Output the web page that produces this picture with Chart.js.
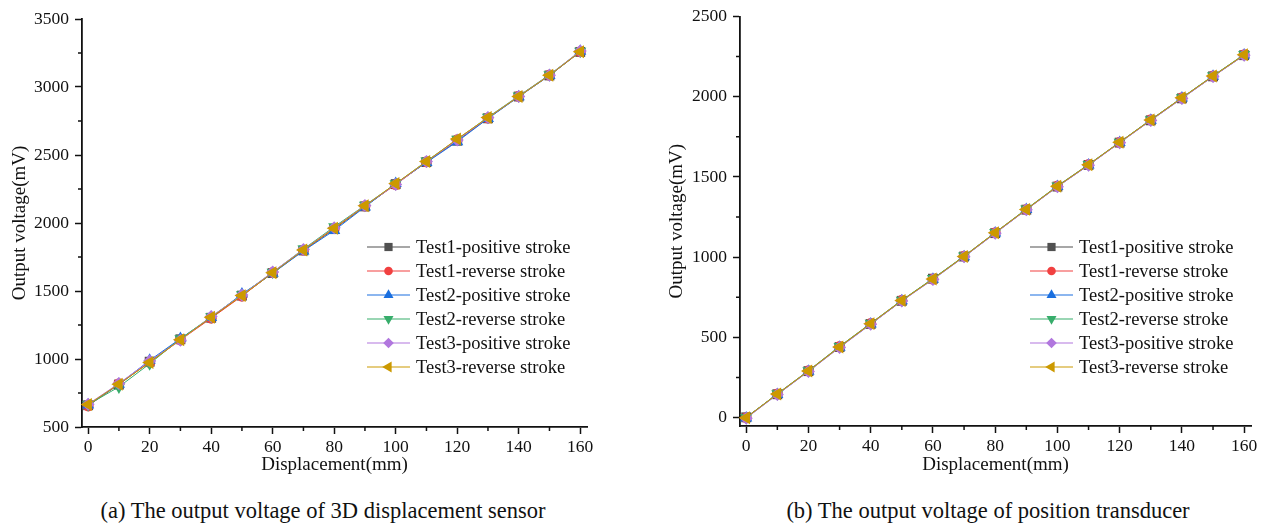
<!DOCTYPE html>
<html>
<head>
<meta charset="utf-8">
<script src="https://cdn.jsdelivr.net/npm/chart.js@4/dist/chart.umd.min.js"></script>
<style>
  html, body { margin: 0; padding: 0; background: #fff; }
  body { width: 1273px; height: 524px; position: relative; overflow: hidden; font-family: "Liberation Serif", "Times New Roman", serif; }
  .panel { position: absolute; top: 0; height: 480px; }
  .caption { position: absolute; top: 497px; font-size: 22.5px; color: #111; white-space: nowrap; transform: translateX(-50%); line-height: 28px; }
</style>
</head>
<body>
<div class="panel" style="left:0;width:600px;"><canvas id="chartA"></canvas></div>
<div class="panel" style="left:660px;width:613px;"><canvas id="chartB"></canvas></div>
<div class="caption" style="left:323px;">(a) The output voltage of 3D displacement sensor</div>
<div class="caption" style="left:988px;">(b) The output voltage of position transducer</div>
<script>
// ---------- data ----------
const displacement = [0, 10, 20, 30, 40, 50, 60, 70, 80, 90, 100, 110, 120, 130, 140, 150, 160];
const seriesNames = ["Test1-positive stroke", "Test1-reverse stroke", "Test2-positive stroke", "Test2-reverse stroke", "Test3-positive stroke", "Test3-reverse stroke"];

const xTickValues = [0, 20, 40, 60, 80, 100, 120, 140, 160];
const xMinorValues = [10, 30, 50, 70, 90, 110, 130, 150];
const yTickValuesA = [500, 1000, 1500, 2000, 2500, 3000, 3500];
const yMinorValuesA = [750, 1250, 1750, 2250, 2750, 3250];
const yTickValuesB = [0, 500, 1000, 1500, 2000, 2500];
const yMinorValuesB = [250, 750, 1250, 1750, 2250];

// (a) 3D displacement sensor, mV
const a_test1Pos = [660, 812, 980, 1145, 1303, 1466, 1632, 1798, 1955, 2122, 2286, 2448, 2605, 2770, 2930, 3085, 3258];
const a_test1Rev = [655, 818, 975, 1140, 1300, 1462, 1636, 1800, 1960, 2125, 2282, 2450, 2612, 2772, 2932, 3088, 3260];
const a_test2Pos = [662, 815, 990, 1150, 1305, 1478, 1630, 1795, 1945, 2118, 2290, 2445, 2598, 2768, 2928, 3084, 3262];
const a_test2Rev = [664, 795, 965, 1148, 1310, 1472, 1638, 1808, 1972, 2130, 2288, 2455, 2615, 2778, 2934, 3090, 3263];
const a_test3Pos = [668, 820, 985, 1138, 1312, 1470, 1640, 1805, 1965, 2128, 2284, 2452, 2610, 2775, 2931, 3087, 3265];
const a_test3Rev = [665, 815, 975, 1142, 1307, 1466, 1634, 1802, 1962, 2126, 2290, 2452, 2618, 2775, 2930, 3086, 3260];

// (b) position transducer, mV
const b_test1Pos = [2, 146, 290, 440, 584, 728, 866, 1004, 1150, 1296, 1440, 1575, 1714, 1853, 1990, 2127, 2259];
const b_test1Rev = [0, 148, 292, 443, 587, 731, 864, 1006, 1153, 1298, 1443, 1577, 1716, 1856, 1993, 2129, 2262];
const b_test2Pos = [-2, 145, 289, 439, 583, 729, 862, 1003, 1151, 1297, 1441, 1574, 1715, 1854, 1992, 2128, 2260];
const b_test2Rev = [1, 149, 293, 444, 588, 732, 867, 1007, 1154, 1300, 1444, 1578, 1717, 1857, 1994, 2131, 2263];
const b_test3Pos = [-3, 144, 288, 437, 582, 727, 861, 1002, 1149, 1295, 1439, 1573, 1713, 1852, 1989, 2126, 2258];
const b_test3Rev = [0, 147, 291, 441, 586, 730, 864, 1005, 1153, 1298, 1442, 1576, 1716, 1855, 1993, 2129, 2261];

// ---------- styles ----------
const colors = ["#515151", "#F14040", "#1A6FDF", "#37AD6B", "#B177DE", "#CC9900"];
const markers = [
  { pointStyle: "rect", radius: 7, rotation: 0 },
  { pointStyle: "circle", radius: 5.5, rotation: 0 },
  { pointStyle: "triangle", radius: 7, rotation: 0 },
  { pointStyle: "triangle", radius: 7, rotation: 180 },
  { pointStyle: "rectRot", radius: 6.5, rotation: 0 },
  { pointStyle: "triangle", radius: 7.5, rotation: -90 }
];
const FONT = "'Liberation Serif', 'Times New Roman', serif";

function makeDatasets(list) {
  return list.map((vals, i) => ({
    label: seriesNames[i],
    data: displacement.map((x, k) => ({ x: x, y: vals[k] })),
    borderColor: colors[i],
    backgroundColor: colors[i],
    borderWidth: 1,
    pointStyle: markers[i].pointStyle,
    pointRadius: markers[i].radius,
    pointRotation: markers[i].rotation,
    pointBorderWidth: 0,
    pointHoverRadius: markers[i].radius,
    order: list.length - 1 - i,
    clip: false,
    tension: 0
  }));
}

// custom in-plot legend
function legendPlugin(cfg) {
  return {
    id: "inlegend",
    afterDraw(chart) {
      const ctx = chart.ctx;
      ctx.save();
      chart.data.datasets.forEach((ds, i) => {
        const y = cfg.y0 + cfg.dy * i;
        ctx.strokeStyle = ds.borderColor;
        ctx.lineWidth = 1.2;
        ctx.beginPath();
        ctx.moveTo(cfg.x0, y);
        ctx.lineTo(cfg.x1, y);
        ctx.stroke();
        ctx.fillStyle = ds.backgroundColor;
        ctx.strokeStyle = ds.backgroundColor;
        Chart.helpers.drawPoint(ctx, { pointStyle: ds.pointStyle, radius: ds.pointRadius - 1.2, rotation: ds.pointRotation, borderWidth: 0 }, (cfg.x0 + cfg.x1) / 2, y);
        ctx.fillStyle = "#111";
        ctx.font = "18.5px " + FONT;
        ctx.textBaseline = "middle";
        ctx.textAlign = "left";
        ctx.fillText(ds.label, cfg.tx, y + 1);
      });
      ctx.restore();
    }
  };
}

// minor ticks
function minorTickPlugin(xMinor, yMinor) {
  return {
    id: "minorticks",
    afterDraw(chart) {
      const ctx = chart.ctx, ca = chart.chartArea;
      const xs = chart.scales.x, ys = chart.scales.y;
      ctx.save();
      ctx.strokeStyle = "#111";
      ctx.lineWidth = 1.5;
      ctx.beginPath();
      xMinor.forEach(v => { const p = xs.getPixelForValue(v); ctx.moveTo(p, ca.bottom); ctx.lineTo(p, ca.bottom + 4); });
      yMinor.forEach(v => { const p = ys.getPixelForValue(v); ctx.moveTo(ca.left, p); ctx.lineTo(ca.left - 4, p); });
      ctx.stroke();
      ctx.restore();
    }
  };
}

function makeChart(id, lists, opt) {
  return new Chart(document.getElementById(id), {
    type: "line",
    data: { datasets: makeDatasets(lists) },
    options: {
      responsive: true,
      maintainAspectRatio: false,
      animation: false,
      events: [],
      layout: { padding: { top: opt.padTop, right: opt.padRight, left: 0, bottom: 0 } },
      plugins: { legend: { display: false }, tooltip: { enabled: false } },
      scales: {
        x: {
          type: "linear",
          min: -2, max: 162.2,
          afterBuildTicks: s => { s.ticks = xTickValues.map(v => ({ value: v })); },
          afterFit: s => { s.height = opt.xHeight; },
          ticks: { color: "#111", font: { family: FONT, size: 17.5 }, padding: 3, maxRotation: 0, autoSkip: false, callback: v => String(v) },
          grid: { display: true, drawOnChartArea: false, drawTicks: true, tickLength: 7, tickColor: "#111", tickWidth: 1.5 },
          border: { display: true, color: "#111", width: 1.8 },
          title: { display: true, text: "Displacement(mm)", color: "#111", font: { family: FONT, size: 19 }, padding: { top: 0, bottom: 4 } }
        },
        y: {
          type: "linear",
          min: opt.yMin, max: opt.yMax,
          afterBuildTicks: s => { s.ticks = opt.yTicks.map(v => ({ value: v })); },
          afterFit: s => { s.width = opt.yWidth; },
          ticks: { color: "#111", font: { family: FONT, size: 17.5 }, padding: 6, callback: v => String(v) },
          grid: { display: true, drawOnChartArea: false, drawTicks: true, tickLength: 7, tickColor: "#111", tickWidth: 1.5 },
          border: { display: true, color: "#111", width: 1.8 },
          title: { display: true, text: "Output voltage(mV)", color: "#111", font: { family: FONT, size: 19 }, padding: { top: opt.yTitlePad, bottom: 0 } }
        }
      }
    },
    plugins: [legendPlugin(opt.legend), minorTickPlugin(xMinorValues, opt.yMinor)]
  });
}

makeChart("chartA",
  [a_test1Pos, a_test1Rev, a_test2Pos, a_test2Rev, a_test3Pos, a_test3Rev],
  { padTop: 19, padRight: 13, xHeight: 53, yWidth: 82, yMin: 500, yMax: 3500, yTicks: yTickValuesA, yMinor: yMinorValuesA, yTitlePad: 9,
    legend: { x0: 367, x1: 410, tx: 416, y0: 247, dy: 24 } });

makeChart("chartB",
  [b_test1Pos, b_test1Rev, b_test2Pos, b_test2Rev, b_test3Pos, b_test3Rev],
  { padTop: 14, padRight: 22, xHeight: 54, yWidth: 80, yMin: -52, yMax: 2500, yTicks: yTickValuesB, yMinor: yMinorValuesB, yTitlePad: 6,
    legend: { x0: 370, x1: 413, tx: 419, y0: 247, dy: 24 } });
</script>
</body>
</html>
